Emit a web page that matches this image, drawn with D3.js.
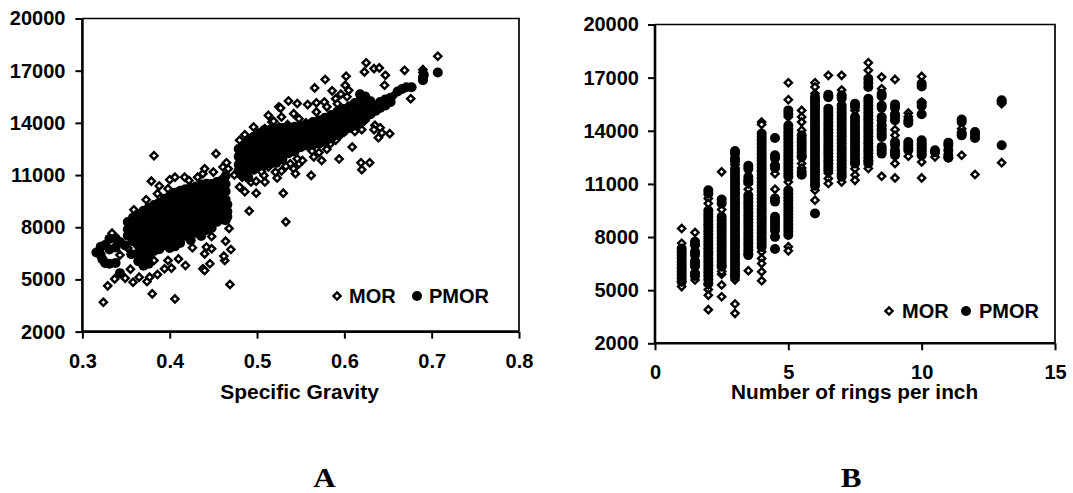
<!DOCTYPE html>
<html>
<head>
<meta charset="utf-8">
<style>
  html, body { margin: 0; background: #fff; }
  svg { display: block; }
  text { font-family: "Liberation Sans", sans-serif; font-weight: bold; fill: #000; }
  .panel { font-family: "Liberation Serif", serif; }
</style>
</head>
<body>
<div id="chart-area"></div>
<script src="https://d3js.org/d3.v7.min.js"></script>
<script>
const yTicks = [2000, 5000, 8000, 11000, 14000, 17000, 20000];
const gravityTicks = [0.3, 0.4, 0.5, 0.6, 0.7, 0.8];
const ringTicks = [0, 5, 10, 15];
const seriesNames = ["MOR", "PMOR"];

// chart A: [specific gravity, MOR]
const morGravity = [
  [.324,3690],[.329,4630],[.337,5030],[.349,5070],[.358,4840],[.355,5590],[.365,5130],[.374,4880],[.377,5130],
  [.386,5280],[.380,4170],[.406,3880],[.394,5610],[.402,5650],[.418,5800],[.398,6090],[.382,6090],[.410,6180],
  [.438,5610],[.440,5510],[.446,5900],[.440,6470],[.448,6760],[.442,6860],[.426,6820],[.448,7470],[.463,6090],
  [.462,6340],[.470,6720],[.464,7200],[.468,7930],[.469,4710],[.491,8930],[.533,8310],[.530,9960],[.499,9960],
  [.486,10040],[.480,10310],[.382,12110],[.379,10650],[.359,9000],[.363,8770],[.334,7660],[.373,9580],[.388,10370],
  [.386,9930],[.398,10210],[.400,10730],[.406,10880],[.417,10880],[.422,10690],[.432,10880],[.438,11080],[.440,11360],
  [.450,11170],[.453,12230],[.461,11460],[.465,11710],[.467,11360],[.343,6400],[.352,6800],[.362,7000],
  [.480,13000],[.486,13320],[.496,13760],[.483,10880],[.493,10600],[.499,10640],[.509,10600],[.508,10980],[.523,10830],
  [.528,11230],[.521,11170],[.538,11650],[.542,11360],[.544,11080],[.562,10980],[.548,11650],[.552,11840],[.546,11940],
  [.563,12380],[.565,12040],[.574,11840],[.594,11920],[.580,12480],[.584,12800],[.594,13230],[.609,12610],[.600,13480],
  [.619,11710],[.629,11710],[.620,11310],[.620,13610],[.623,14110],[.635,13860],[.634,13610],[.641,13720],[.643,13420],
  [.639,13150],[.652,13380],[.707,17830],[.690,17060],[.669,17020],[.676,15390],[.625,17450],[.623,16930],[.634,17120],
  [.640,17160],[.647,16740],[.646,16160],[.602,16680],[.601,16160],[.605,15870],[.578,16490],[.566,16010],[.586,15840],
  [.596,15650],[.603,15500],[.590,15390],[.577,15200],[.558,15050],[.568,15150],[.568,14630],[.536,15260],[.546,15110],
  [.542,14530],[.548,14240],[.525,14920],[.513,14430],[.528,14340],[.517,14050],[.525,13760],[.509,13670],[.501,13380],
  [.600,14530],[.580,14920],[.527,14850],[.519,14100],[.535,13900],[.556,14000],[.513,11460],[.517,11840],[.505,11200],
  [.533,11500],[.571,12300],[.590,13000],[.655,15500],[.612,13500],[.592,15100],[.474,11000],[.690,16900]
];
// [specific gravity, [PMOR values at that gravity]]
const pmorGravity = [
  [.316,[6550]],[.321,[6880,6400]],[.323,[6150]],[.326,[6980,5950]],[.331,[7330,6720,5900]],[.338,[7370,6830,5950]],[.343,[7150,5360]],
  [.349,[6950]],[.352,[8300,7880,7510]],[.356,[6450]],[.358,[8560,8090,7660,7190]],[.364,[8760,8310,7840,7420,6960,6510,6040]],
  [.370,[8950,8490,8060,7610,7140,6700,6260,5790]],[.376,[9120,8680,8240,7810,7360,6880,6440,5900]],[.382,[9280,8860,8390,7960,7490,7060,6640]],
  [.388,[9410,8940,8510,8050,7590,7160,6740]],[.394,[9640,9210,8760,8290,7860,7410,6960]],[.400,[9790,9360,8900,8440,8010,7540,7100,6810]],
  [.406,[9980,9510,9060,8590,8160,7690,7260,6900]],[.412,[10100,9640,9210,8740,8310,7860,7390,7100]],[.418,[10190,9760,9290,8860,8390,7960,7510]],
  [.424,[10260,9790,9360,8890,8460,7990,7610,7250]],[.430,[10340,9910,9440,9010,8540,8110,7690]],[.436,[10450,9990,9560,9090,8660,8190,7760,7500]],
  [.442,[10500,10060,9590,9160,8690,8260,7840]],[.448,[10490,10040,9610,9140,8710,8240,7960]],[.454,[10600,10110,9640,9210,8740,8310]],
  [.460,[10710,10240,9810,9340,8910,8440]],[.464,[10950,10490,10060,9590,9160,8690,8400]],[.466,[9300,8900,8600]],
  [.479,[12500,12060,11590,11250]],[.484,[12650,12340,11910,11440,11050]],[.490,[13000,12540,12110,11640,11210,10850]],
  [.496,[13200,12660,12190,11760,11300]],[.502,[13400,12900,12450,11950,11500]],[.508,[13580,13150,12710,12240,11810,11550]],
  [.515,[13600,13210,12740,12310,11840,11650]],[.522,[13650,13290,12860,12390,11960,11700]],[.529,[13700,13410,12940,12510,12040,11900]],
  [.536,[13750,13460,12990,12560,12250]],[.543,[13780,13540,13110,12640,12350]],[.550,[13820,13610,13140,12760,12600]],[.557,[13900,13740,13310,12890,12700]],
  [.564,[14050,13860,13390,13010,12750]],[.571,[14150,13990,13560,13140,12800]],[.578,[14300,14160,13690,13260,12900]],[.585,[14450,14340,13910,13440,13100]],
  [.592,[14650,14560,14090,13660,13300]],[.599,[14800,14690,14260,13790,13500]],[.606,[14960,14490,14060,13700]],[.612,[15140,14710,14240,13850]],
  [.618,[15650,15290,14860,14390,14050]],[.624,[15510,15040,14610,14250]],[.630,[15240,14810,14500]],[.636,[14950,14700]],
  [.641,[15200,14850]],[.647,[15350,15000]],[.653,[15450,15200]],[.661,[15800]],[.666,[15950]],[.671,[16050]],[.677,[16050]],
  [.690,[16450,16620]],[.691,[16750]],[.707,[16900]]
];

// chart B: [rings per inch, [values]]
const morRings = [
  [1,[8480,7650,5200,5500]],[1.5,[8260,7490,5570,6000]],[2,[10170,9890,5040,4720,3900,5300]],[2.5,[11680,9550,5900,5290,4630,6050]],
  [3,[12100,5570,4220,3690,5900]],[3.5,[10700,6100,11000]],[4,[14490,14360,7170,6790,6510,6040,5530]],[4.5,[11580,10700,12050]],
  [5,[16710,15750,14780,11110,7450,7220]],[5.5,[15150,14780,14490,14030,12150,11900]],[6,[16710,16470,16100,15810,10640,10080]],
  [6.5,[17130,15900,11300,11020,11600]],[7,[17130,16300,11110]],[7.5,[15150,11860,11500,11200]],[8,[17840,17410,11870,12300]],
  [8.5,[17030,16370,11430]],[9,[16900,14060,13740,12150,11340]],[9.5,[15000,14800,12560]],[10,[17070,15620,12240,11340]],
  [10.5,[12520]],[11,[12480]],[11.5,[14120,12620]],[12,[11530]],[13,[15530,12200]]
];
const pmorRings = [
  [1,[7350,7160,6980,6790,6600,6420,6230,6040,5850,5670,5480]],
  [1.5,[7730,7560,7170,7000,6650,6500,6350,5950,5800]],
  [2,[10640,10450,9500,9300,9110,8920,8720,8530,8330,8140,7950,7750,7560,7360,7170,6980,6780,6590,6390,6200,6010,5810,5620,5380]],
  [2.5,[10120,9900,9140,8950,8750,8560,8360,8170,7970,7780,7590,7390,7200,7000,6810,6620,6420,6320]],
  [3,[12860,12700,12430,12280,11860,11670,11470,11280,11080,10890,10700,10500,10310,10110,9920,9730,9530,9340,9140,8950,8760,8560,8370,8170,7980,7790,7590,7400,7200,7010,6820,6620,6430,6230,6040,5850,5760]],
  [3.5,[12020,11850,11390,11200,11110,10360,10170,9970,9780,9590,9390,9200,9000,8810,8620,8420,8230,8030,7840,7650,7450,7260,7060,6980]],
  [4,[13840,13650,13450,13260,13060,12870,12680,12480,12290,12090,11900,11710,11510,11320,11120,10930,10740,10540,10350,10150,9960,9770,9570,9380,9180,8990,8800,8600,8410,8210,8020,7830,7630,7440]],
  [4.5,[13590,12620,12450,12050,11900,10170,10000,9140,8960,8780,8600,8390,8010,7320]],
  [5,[15150,14950,14300,14110,13910,13720,13530,13330,13140,12940,12750,12560,12360,12170,11970,11780,11590,11400,10640,10450,10250,10060,9870,9670,9480,9280,9090,8900,8700,8510,8310,8110]],
  [5.5,[13740,13550,13350,13160,12970,12770,12580,12520,11680,11520]],
  [6,[15900,15710,15510,15320,15120,14930,14740,14540,14350,14150,13960,13770,13570,13380,13180,12990,12800,12600,12410,12210,12020,11830,11630,11440,11240,11050,10900,9330]],
  [6.5,[16040,15900,15250,15060,14860,14670,14470,14280,14090,13890,13700,13500,13310,13120,12920,12730,12530,12340,12150,11950,11770]],
  [7,[16000,15830,15430,15240,15040,14850,14660,14460,14270,14070,13880,13690,13490,13300,13100,12910,12720,12520,12330,12130,11940,11750,11550,11400]],
  [7.5,[15530,15350,14780,14590,14390,14200,14000,13810,13620,13420,13230,13030,12840,12650,12450,12260,12150]],
  [8,[16940,16700,16470,15810,15620,15420,15230,15030,14840,14650,14450,14260,14060,13870,13680,13480,13290,13090,12900,12710,12510,12320,12150]],
  [8.5,[16090,15950,15430,15300,14780,14600,14310,14120,13980,13800,13650,13090,12900,12710]],
  [9,[15490,15300,14930,14780,14590,13370,13200,12900,12760,12620]],
  [9.5,[14440,14600,13370,13200,13040,12900]],
  [10,[16660,16500,15570,15400,14930,13460,13300,13180,13030,12900,12760,12620]],
  [10.5,[12900,12780]],
  [11,[13330,13180,12900,12480,12630]],
  [11.5,[14630,14500,13740,13870]],
  [12,[13930,13760,13590]],
  [13,[15720,15640,13180]]
];

const width = 1073;
const height = 493;
const fontSize = 20;

const svg = d3.select("#chart-area").append("svg")
  .attr("width", width)
  .attr("height", height);

function drawPanel(opts) {
  const x = d3.scaleLinear().domain(opts.xDomain).range([opts.left, opts.right]);
  const y = d3.scaleLinear().domain([2000, 20000]).range([opts.bottom, opts.top]);
  const g = svg.append("g");

  const diamond = d3.symbol().type(d3.symbolDiamond2).size(33);

  g.selectAll("path.mor").data(opts.mor).join("path")
    .attr("class", "mor")
    .attr("d", diamond)
    .attr("transform", d => `translate(${x(d[0])},${y(d[1])})`)
    .attr("fill", "#fff").attr("stroke", "#000").attr("stroke-width", 2.4);

  g.selectAll("circle.pmor").data(opts.pmor).join("circle")
    .attr("class", "pmor")
    .attr("cx", d => x(d[0])).attr("cy", d => y(d[1]))
    .attr("r", 5).attr("fill", "#000");

  const xAxis = g.append("g")
    .attr("transform", `translate(0,${opts.bottom})`)
    .call(d3.axisBottom(x).tickValues(opts.xTicks).tickFormat(opts.xFormat).tickSize(7).tickPadding(15));
  const yAxis = g.append("g")
    .attr("transform", `translate(${opts.left},0)`)
    .call(d3.axisLeft(y).tickValues(yTicks).tickFormat(d3.format("d")).tickSize(7).tickPadding(opts.yPad));

  for (const axis of [xAxis, yAxis]) {
    axis.attr("font-family", null).attr("font-size", fontSize);
    axis.selectAll("line").attr("stroke", "#000").attr("stroke-width", 2);
    axis.select(".domain").remove();
  }

  // top and right of the frame are thinner than the axes
  g.append("path")
    .attr("d", `M${opts.left},${opts.top}H${opts.right}V${opts.bottom}`)
    .attr("fill", "none").attr("stroke", "#000").attr("stroke-width", 1.7);
  g.append("path")
    .attr("d", `M${opts.left},${opts.top}V${opts.bottom}H${opts.right}`)
    .attr("fill", "none").attr("stroke", "#000").attr("stroke-width", 2.6);

  g.append("text")
    .attr("transform", `translate(${opts.titleX},${opts.titleY}) scale(${opts.titleStretch},1)`)
    .attr("text-anchor", "middle").attr("font-size", fontSize)
    .text(opts.title);

  // legend
  const lg = g.append("g").attr("transform", `translate(0,${opts.legendY})`);
  lg.append("path").attr("d", diamond).attr("transform", `translate(${opts.legendX[0]},0)`)
    .attr("fill", "#fff").attr("stroke", "#000").attr("stroke-width", 2.4);
  lg.append("circle").attr("cx", opts.legendX[2]).attr("cy", 0).attr("r", 5).attr("fill", "#000");
  [[opts.legendX[1], seriesNames[0]], [opts.legendX[3], seriesNames[1]]].forEach(([px, name]) => {
    lg.append("text").attr("x", px).attr("y", 7)
      .attr("font-size", fontSize).text(name);
  });

  svg.append("text").attr("class", "panel")
    .attr("transform", `translate(${opts.panelX},487) scale(1.15,1)`)
    .attr("text-anchor", "middle").attr("font-size", 27)
    .text(opts.panel);
}

const flatten = rows => rows.flatMap(([v, ys]) => ys.map(val => [v, val]));

drawPanel({
  xDomain: [0.3, 0.8], left: 82.4, right: 519, top: 18.5, bottom: 331.6, yPad: 10,
  xTicks: gravityTicks, xFormat: d3.format(".1f"),
  mor: morGravity, pmor: flatten(pmorGravity),
  title: "Specific Gravity", titleX: 299.5, titleY: 399, titleStretch: 1.05,
  legendX: [337, 349, 417, 429], legendY: 296, panel: "A", panelX: 324.5
});

drawPanel({
  xDomain: [0, 15], left: 655, right: 1055, top: 24.5, bottom: 343.3, yPad: 9,
  xTicks: ringTicks, xFormat: d3.format("d"),
  mor: flatten(morRings), pmor: flatten(pmorRings),
  title: "Number of rings per inch", titleX: 854.5, titleY: 399, titleStretch: 1.04,
  legendX: [889, 902, 966, 979], legendY: 311, panel: "B", panelX: 851
});
</script>
</body>
</html>
